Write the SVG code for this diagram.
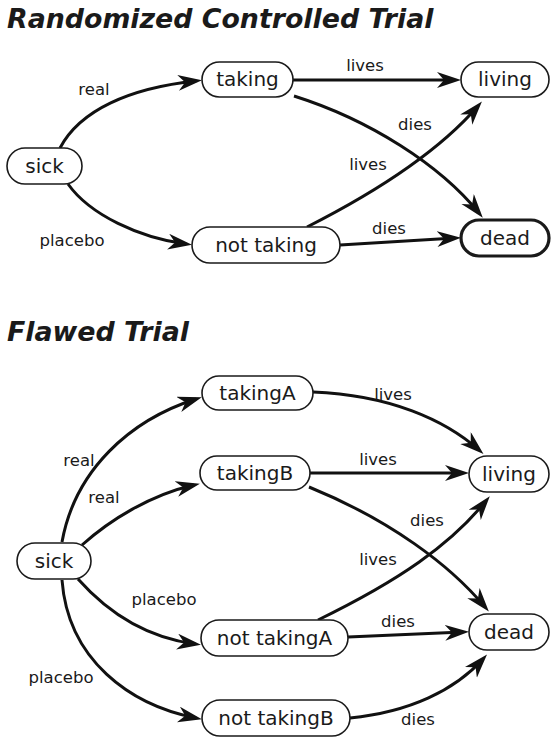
<svg xmlns="http://www.w3.org/2000/svg" width="551" height="738" viewBox="0 0 551 738">
<style>
.title{font-family:"DejaVu Sans",Verdana,sans-serif;font-weight:bold;font-style:italic;font-size:26.8px;fill:#1a1a1a}
.node rect{fill:#fff;stroke:#1a1a1a;stroke-width:1.6}
.node.bold rect{stroke-width:3.2}
.node text{font-family:"DejaVu Sans",Verdana,sans-serif;font-size:20px;fill:#1a1a1a;text-anchor:middle}
.edges path{fill:none;stroke:#111;stroke-width:3;marker-end:url(#arr)}
.lbl{font-family:"DejaVu Sans",Verdana,sans-serif;font-size:16.5px;fill:#1a1a1a;text-anchor:middle}
</style>
<defs>
<marker id="arr" markerUnits="userSpaceOnUse" markerWidth="26" markerHeight="18" refX="18" refY="8" orient="auto" viewBox="0 0 26 18">
<path d="M0,0 L24,8 L0,16 L7,8 z" fill="#111"/>
</marker>
</defs>
<rect width="551" height="738" fill="#fff"/>
<text class="title" x="7" y="28">Randomized Controlled Trial</text>
<text class="title" x="7" y="341">Flawed Trial</text>

<g class="edges" id="edges">
<path d="M60,148 C80,110 130,88 196,81"/>
<path d="M68,184 C90,215 140,238 186,244"/>
<path d="M293,80 L455,80"/>
<path d="M294,96 C370,120 440,165 479,213"/>
<path d="M307,227 C380,190 440,150 478,106"/>
<path d="M340,245 L455,238"/>

<path d="M62,542 C75,470 130,420 196,399"/>
<path d="M82,545 C110,520 150,495 194,485"/>
<path d="M78,579 C110,615 150,638 195,644"/>
<path d="M62,580 C68,660 130,705 196,718"/>
<path d="M313,392 C390,395 445,420 479,450"/>
<path d="M310,473 L463,473"/>
<path d="M309,487 C390,520 450,565 485,607"/>
<path d="M318,620 C400,580 450,545 486,501"/>
<path d="M348,637 L463,632"/>
<path d="M350,718 C410,712 455,690 483,659"/>
</g>

<g id="edge-labels">
<text class="lbl" x="94" y="95">real</text>
<text class="lbl" x="72" y="246">placebo</text>
<text class="lbl" x="365" y="71">lives</text>
<text class="lbl" x="415" y="130">dies</text>
<text class="lbl" x="368" y="170">lives</text>
<text class="lbl" x="389" y="234">dies</text>

<text class="lbl" x="79" y="466">real</text>
<text class="lbl" x="104" y="503">real</text>
<text class="lbl" x="164" y="605">placebo</text>
<text class="lbl" x="61" y="683">placebo</text>
<text class="lbl" x="393" y="400">lives</text>
<text class="lbl" x="378" y="465">lives</text>
<text class="lbl" x="427" y="526">dies</text>
<text class="lbl" x="378" y="565">lives</text>
<text class="lbl" x="398" y="627">dies</text>
<text class="lbl" x="418" y="725">dies</text>
</g>

<g class="node" id="n1-sick"><rect x="7" y="148" width="75" height="36" rx="18"/><text x="44.5" y="173">sick</text></g>
<g class="node" id="n1-taking"><rect x="202" y="62" width="91" height="35" rx="17.5"/><text x="247.5" y="86">taking</text></g>
<g class="node" id="n1-living"><rect x="461" y="62" width="88" height="35" rx="17.5"/><text x="505" y="86">living</text></g>
<g class="node" id="n1-nottaking"><rect x="192" y="227" width="148" height="36" rx="18"/><text x="266" y="252">not taking</text></g>
<g class="node bold" id="n1-dead"><rect x="461" y="220" width="88" height="36" rx="18"/><text x="505" y="245">dead</text></g>

<g class="node" id="n2-sick"><rect x="17" y="543" width="74" height="36" rx="18"/><text x="54" y="568">sick</text></g>
<g class="node" id="n2-takingA"><rect x="202" y="376" width="111" height="34" rx="17"/><text x="257.5" y="400">takingA</text></g>
<g class="node" id="n2-takingB"><rect x="200" y="456" width="110" height="34" rx="17"/><text x="255" y="480">takingB</text></g>
<g class="node" id="n2-living"><rect x="469" y="456" width="80" height="36" rx="18"/><text x="509" y="481">living</text></g>
<g class="node" id="n2-nottakingA"><rect x="201" y="620" width="147" height="36" rx="18"/><text x="274.5" y="645">not takingA</text></g>
<g class="node" id="n2-dead"><rect x="469" y="614" width="80" height="36" rx="18"/><text x="509" y="639">dead</text></g>
<g class="node" id="n2-nottakingB"><rect x="202" y="700" width="148" height="36" rx="18"/><text x="276" y="725">not takingB</text></g>
</svg>
